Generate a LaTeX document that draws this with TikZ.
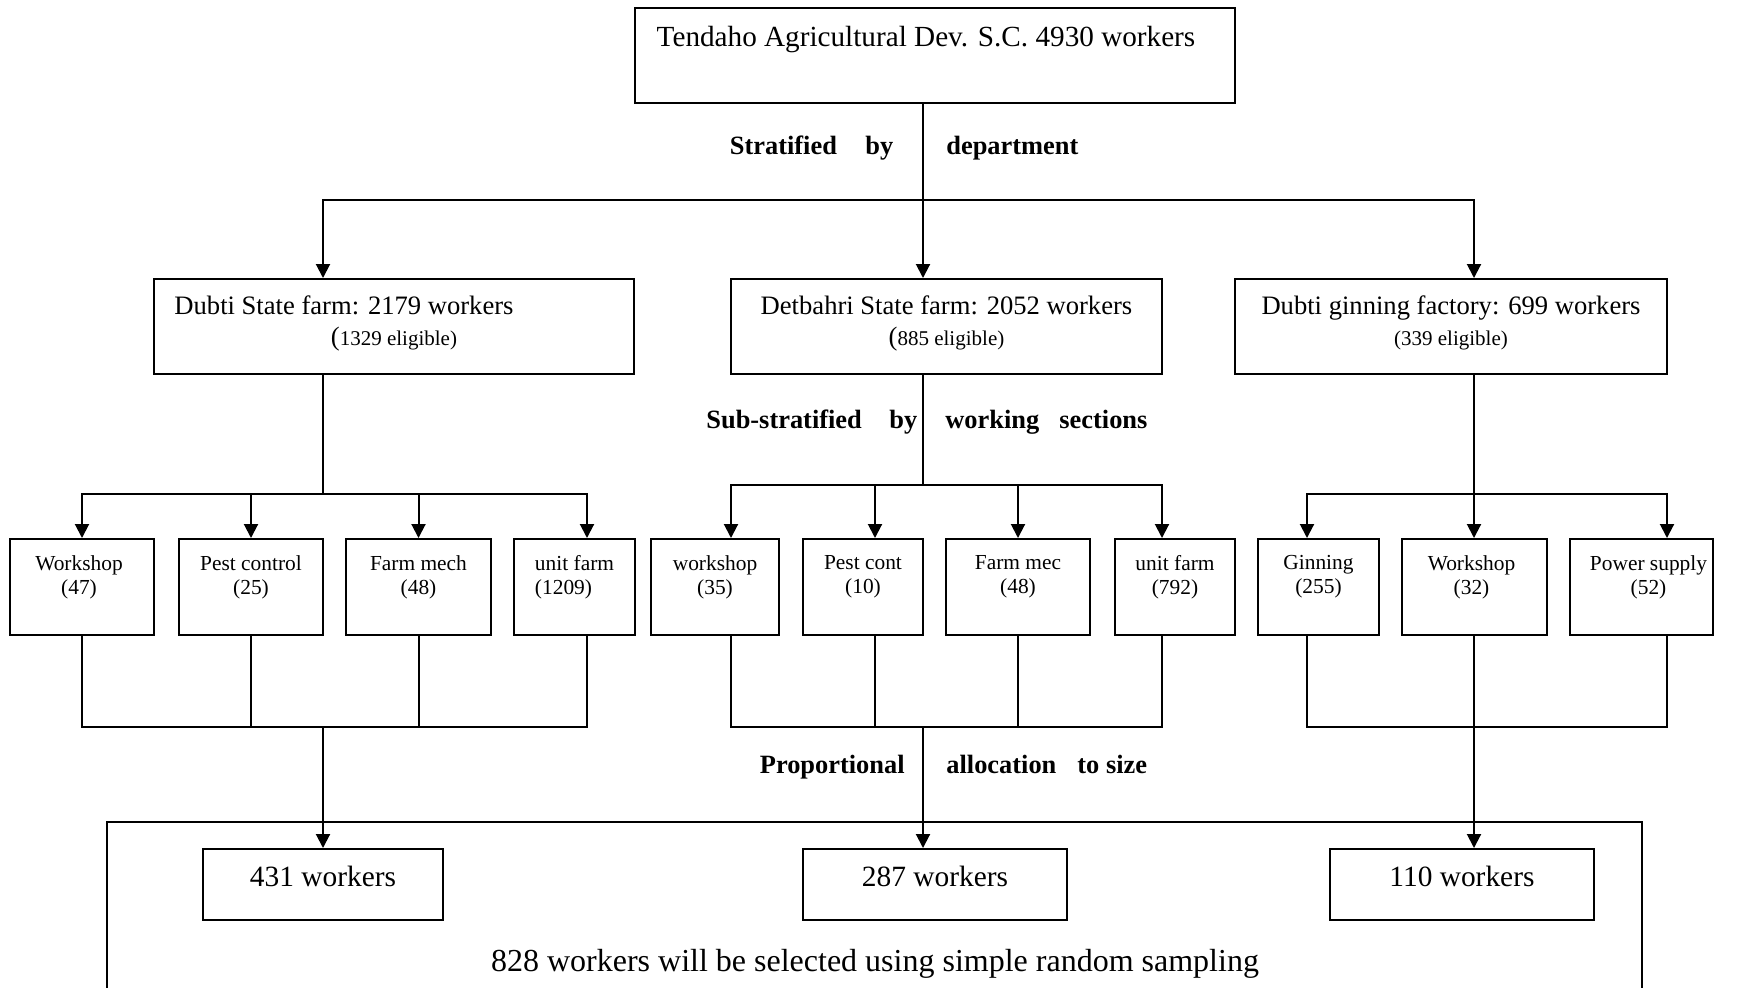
\documentclass[tikz,border=0pt]{standalone}
\usepackage{fontspec}
\setmainfont{Liberation Serif}
\usetikzlibrary{arrows.meta,positioning}

\tikzset{
  box/.style={draw=black,line width=1pt,inner sep=0pt,minimum height=47.5pt},
  unitbox/.style={draw=black,line width=1pt,inner sep=0pt,minimum height=48pt},
  sizebox/.style={draw=black,line width=1pt,inner sep=0pt,minimum height=35.5pt},
  headtxt/.style={inner sep=0pt,align=center,font=\fontsize{13.3}{15.5}\selectfont},
  unittxt/.style={inner sep=0pt,align=center,font=\fontsize{10.7}{12.2}\selectfont},
  steptxt/.style={inner sep=0pt,anchor=base west,font=\fontsize{13.2}{15}\selectfont\bfseries},
  link/.style={line width=1pt},
  flow/.style={line width=1pt,-{Triangle[length=7pt,width=7pt]}},
}

\begin{document}
\begin{tikzpicture}[x=0.5pt,y=-0.5pt]
\useasboundingbox (0,0) rectangle (1741,987);
\clip (0,0) rectangle (1741,987);

% sample frame (runs off the page)
\node[draw=black,line width=1pt,inner sep=0pt,minimum width=767.5pt,minimum height=100pt] (sample) at (874.5,922) {};
\node[inner sep=0pt,anchor=base,font=\fontsize{16}{19}\selectfont] (sampletxt) at (875,971) {828 workers will be selected using simple random sampling};

% enterprise
\node[box,minimum width=300pt] (tendaho) at (935,55.5) {};
\node[headtxt,font=\fontsize{14.6}{17}\selectfont,below=9.5pt of tendaho.north,xshift=-4.5pt] (tendahotxt) {Tendaho Agricultural Dev. S.C. 4930 workers};

% departments
\node[box,minimum width=240pt] (dubti) at (394,326.5) {};
\node[headtxt,below=8.5pt of dubti.north] (dubtitxt) {Dubti State farm: 2179 workers\hspace*{50pt}\\({\fontsize{10.5}{15.5}\selectfont 1329 eligible)}};
\node[box,minimum width=215.5pt] (detb) at (946.5,326.5) {};
\node[headtxt,below=8.5pt of detb.north] (detbtxt) {Detbahri State farm: 2052 workers\\({\fontsize{10.5}{15.5}\selectfont 885 eligible)}};
\node[box,minimum width=216pt] (ginn) at (1451,326.5) {};
\node[headtxt,below=8.5pt of ginn.north] (ginntxt) {Dubti ginning factory: 699 workers\\{\fontsize{10.5}{14}\selectfont (339 eligible)}};

% working sections
\node[unitbox,minimum width=72pt] (ws1) at (82,587) {};
\node[unittxt,below=8.5pt of ws1.north,xshift=-1.5pt] (ws1txt) {Workshop\\(47)};
\node[unitbox,minimum width=72pt] (pc1) at (251,587) {};
\node[unittxt,below=8.5pt of pc1.north] (pc1txt) {Pest control\\(25)};
\node[unitbox,minimum width=72.5pt] (fm1) at (418.5,587) {};
\node[unittxt,below=8.5pt of fm1.north] (fm1txt) {Farm mech\\(48)};
\node[unitbox,minimum width=60.5pt] (uf1) at (574.5,587) {};
\node[unittxt,align=left,below=8.5pt of uf1.north] (uf1txt) {unit farm\\(1209)};
\node[unitbox,minimum width=64pt] (ws2) at (715,587) {};
\node[unittxt,below=8.5pt of ws2.north] (ws2txt) {workshop\\(35)};
\node[unitbox,minimum width=60pt] (pc2) at (863,587) {};
\node[unittxt,below=8.5pt of pc2.north] (pc2txt) {Pest cont\\(10)};
\node[unitbox,minimum width=72pt] (fm2) at (1018,587) {};
\node[unittxt,below=8.5pt of fm2.north] (fm2txt) {Farm mec\\(48)};
\node[unitbox,minimum width=60pt] (uf2) at (1175,587) {};
\node[unittxt,below=8.5pt of uf2.north] (uf2txt) {unit farm\\(792)};
\node[unitbox,minimum width=60.5pt] (gin) at (1318.5,587) {};
\node[unittxt,below=8.5pt of gin.north] (gintxt) {Ginning\\(255)};
\node[unitbox,minimum width=72.5pt] (ws3) at (1474.5,587) {};
\node[unittxt,below=8.5pt of ws3.north,xshift=-1.5pt] (ws3txt) {Workshop\\(32)};
\node[unitbox,minimum width=71.5pt] (pow) at (1641.5,587) {};
\node[unittxt,below=8.5pt of pow.north,xshift=3.5pt] (powtxt) {Power supply\\(52)};

% sample sizes
\node[sizebox,minimum width=120pt] (w431) at (323,884.5) {};
\node[headtxt,font=\fontsize{14.7}{17}\selectfont,below=9pt of w431.north] (w431txt) {431 workers};
\node[sizebox,minimum width=132pt] (w287) at (935,884.5) {};
\node[headtxt,font=\fontsize{14.7}{17}\selectfont,below=9pt of w287.north] (w287txt) {287 workers};
\node[sizebox,minimum width=132pt] (w110) at (1462,884.5) {};
\node[headtxt,font=\fontsize{14.7}{17}\selectfont,below=9pt of w110.north] (w110txt) {110 workers};

% stage labels
\node[steptxt] (strat) at (729.5,154) {Stratified};
\node[steptxt] (stratby) at (865,154) {by};
\node[steptxt] (stratdep) at (946,154) {department};
\node[steptxt] (sub) at (706,428) {Sub-stratified};
\node[steptxt] (subby) at (889,428) {by};
\node[steptxt] (subwork) at (945,428) {working};
\node[steptxt] (subsec) at (1059,428) {sections};
\node[steptxt] (prop) at (759.5,773) {Proportional};
\node[steptxt] (propalloc) at (946,773) {allocation};
\node[steptxt] (propsize) at (1077,773) {to size};

\coordinate (split) at (923,200);
\coordinate (fork1) at (323,494);
\coordinate (fork2) at (923,485);
\coordinate (fork3) at (1474,494);
\coordinate (join1) at (323,727);
\coordinate (join2) at (923,727);
\coordinate (join3) at (1474,727);

\draw[link] (tendaho.south -| split) -- (split);
\draw[flow] (split) -| (dubti.north -| fork1);
\draw[flow] (split) -- (detb.north -| split);
\draw[flow] (split) -| (ginn.north -| fork3);

\draw[link] (dubti.south -| fork1) -- (fork1);
\draw[flow] (fork1) -| (ws1.north);
\draw[flow] (fork1) -| (pc1.north);
\draw[flow] (fork1) -| (fm1.north);
\draw[flow] (fork1) -| ([xshift=6.25pt]uf1.north);
\draw[link] (detb.south -| fork2) -- (fork2);
\draw[flow] (fork2) -| ([xshift=8pt]ws2.north);
\draw[flow] (fork2) -| ([xshift=6pt]pc2.north);
\draw[flow] (fork2) -| (fm2.north);
\draw[flow] (fork2) -| ([xshift=-6.5pt]uf2.north);
\draw[link] (ginn.south -| fork3) -- (fork3);
\draw[flow] (fork3) -| ([xshift=-5.75pt]gin.north);
\draw[flow] (fork3) -- (ws3.north -| fork3);
\draw[flow] (fork3) -| ([xshift=12.75pt]pow.north);

\draw[link] (ws1.south) |- (join1);
\draw[link] (pc1.south) |- (join1);
\draw[link] (fm1.south) |- (join1);
\draw[link] ([xshift=6.25pt]uf1.south) |- (join1);
\draw[flow] (join1) -- (w431.north);
\draw[link] ([xshift=8pt]ws2.south) |- (join2);
\draw[link] ([xshift=6pt]pc2.south) |- (join2);
\draw[link] (fm2.south) |- (join2);
\draw[link] ([xshift=-6.5pt]uf2.south) |- (join2);
\draw[flow] (join2) -- (w287.north -| join2);
\draw[link] ([xshift=-5.75pt]gin.south) |- (join3);
\draw[link] ([xshift=12.75pt]pow.south) |- (join3);
\draw[flow] (ws3.south -| join3) -- (w110.north -| join3);
\end{tikzpicture}
\end{document}
